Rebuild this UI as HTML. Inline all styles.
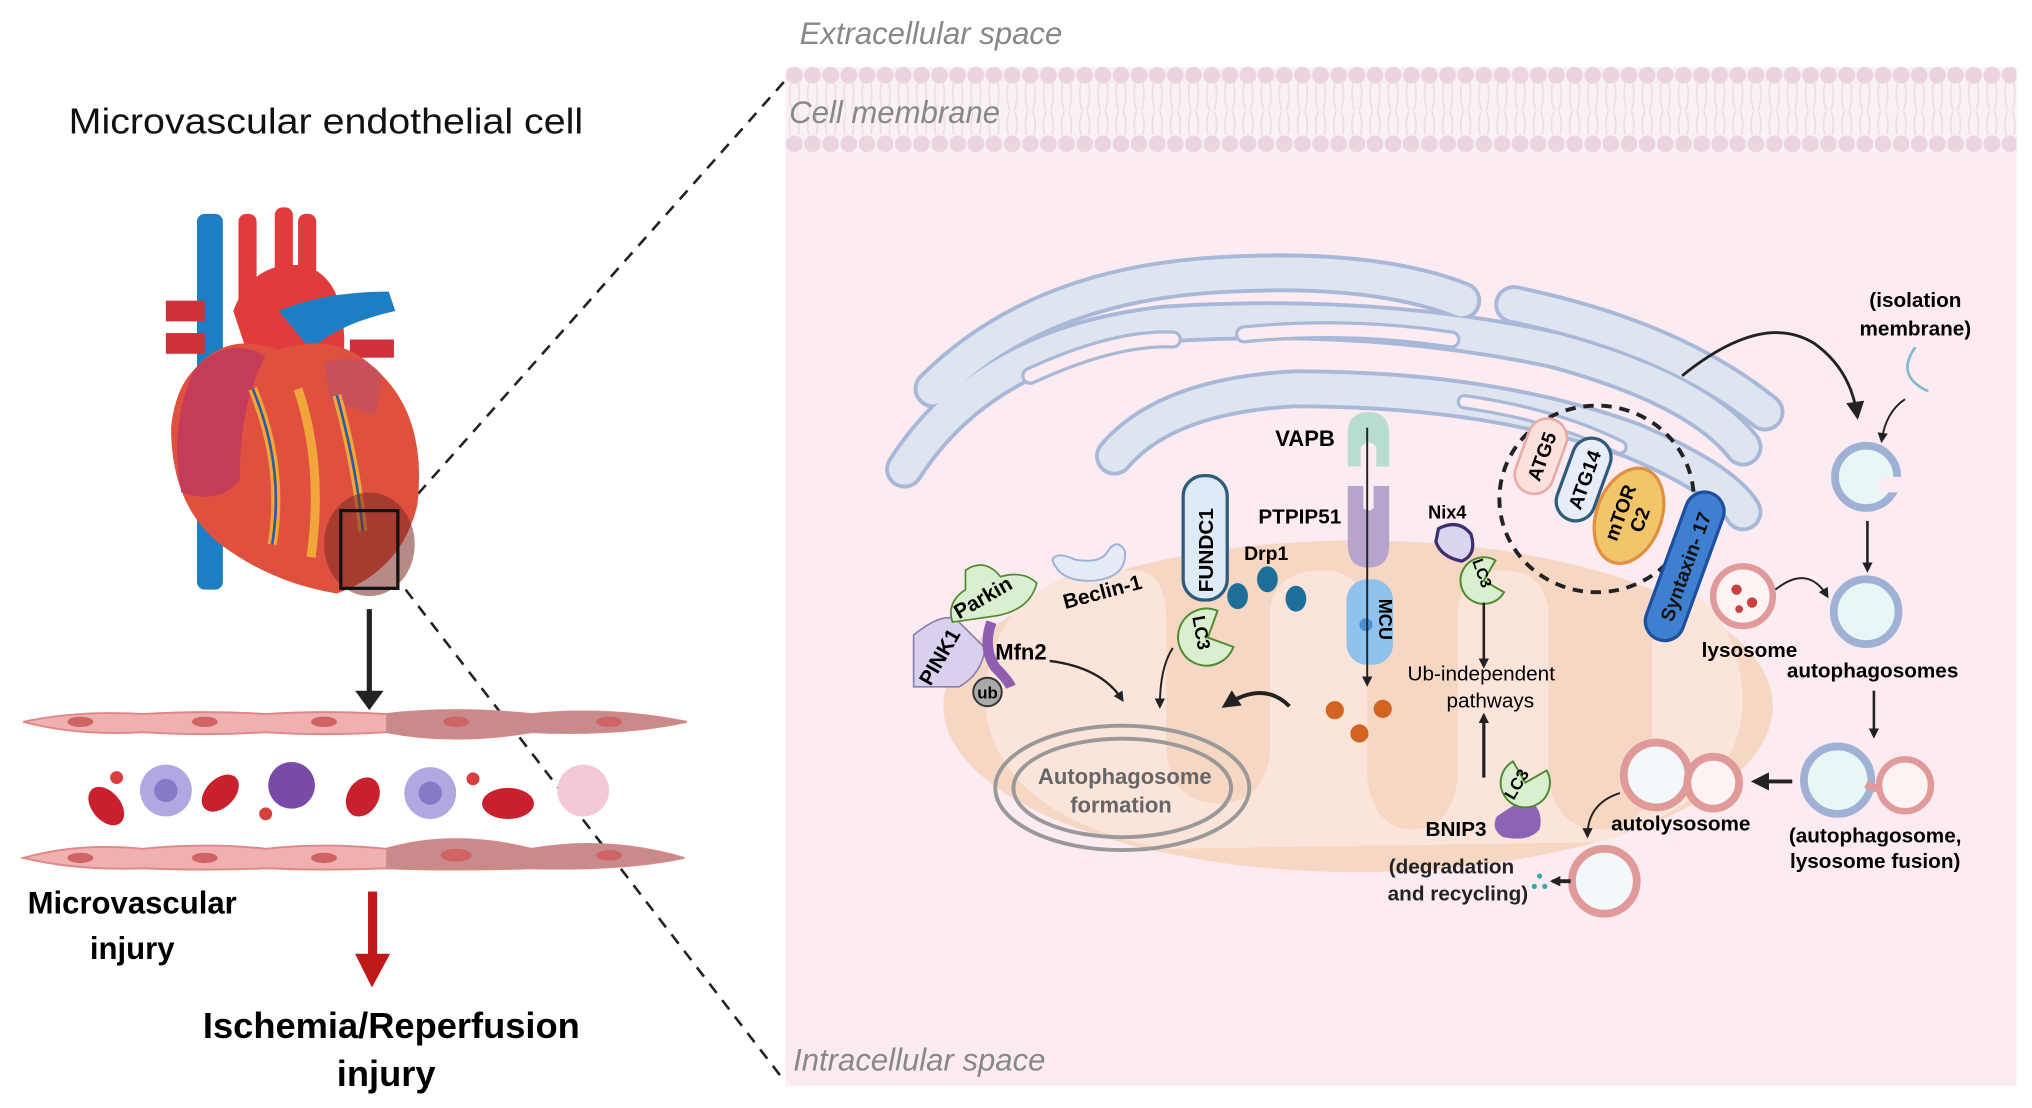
<!DOCTYPE html>
<html><head><meta charset="utf-8"><style>
html,body{margin:0;padding:0;background:#fff;}
svg{display:block;}
text{font-family:"Liberation Sans",sans-serif;}
</style></head><body>
<svg width="2032" height="1108" viewBox="0 0 1568 855" preserveAspectRatio="none" xmlns="http://www.w3.org/2000/svg">
<defs>
<marker id="ah" markerWidth="8" markerHeight="8" refX="6" refY="4" orient="auto" markerUnits="userSpaceOnUse"><path d="M0,0 L8,4 L0,8 Z" fill="#222"/></marker>
<marker id="ahb" markerWidth="14" markerHeight="14" refX="10" refY="7" orient="auto" markerUnits="userSpaceOnUse"><path d="M0,0 L14,7 L0,14 Z" fill="#222"/></marker>
<pattern id="lip" x="606" y="0" width="14" height="130" patternUnits="userSpaceOnUse">
<circle cx="7" cy="58" r="6.5" fill="#ecd3e0"/>
<path d="M4,64 Q2,75 5,85 M10,64 Q12,75 9,85 M4,104 Q2,94 5,86 M10,104 Q12,94 9,86" stroke="#eddbe5" stroke-width="1.2" fill="none"/>
<circle cx="7" cy="111" r="6.5" fill="#ecd3e0"/>
</pattern>
</defs>
<rect width="1568" height="855" fill="#fff"/>
<rect x="606" y="115" width="950" height="723" fill="#fcebf0"/>
<rect x="606" y="52" width="950" height="66" fill="#faf1f5"/>
<rect x="606" y="48" width="950" height="70" fill="url(#lip)"/>
<text x="617" y="34" font-size="24" font-style="italic" fill="#888">Extracellular space</text>
<text x="609" y="95" font-size="24" font-style="italic" fill="#888">Cell membrane</text>
<text x="612" y="826" font-size="24" font-style="italic" fill="#888">Intracellular space</text>
<line x1="312" y1="393" x2="606" y2="62" stroke="#222" stroke-width="2" stroke-dasharray="9,7"/>
<line x1="313" y1="455" x2="606" y2="835" stroke="#222" stroke-width="2" stroke-dasharray="9,7"/>
<ellipse cx="1048" cy="545" rx="320" ry="128" fill="#f6d7c4"/>
<path d="M760,545 Q760,460 840,440 L880,440 Q900,445 900,480 L900,580 Q905,620 940,620 Q975,620 980,580 L980,470 Q985,440 1020,440 Q1050,440 1055,470 L1055,600 Q1060,640 1090,640 Q1120,640 1125,600 L1125,470 Q1130,440 1160,440 Q1190,440 1195,470 L1195,600 Q1200,640 1235,640 Q1270,640 1275,600 L1275,480 Q1280,450 1310,460 Q1345,490 1345,545 Q1340,620 1230,650 L900,655 Q770,630 760,545 Z" fill="#fbe4d9"/>
<g fill="none" stroke-linecap="round">
<g stroke="#a7b8d8" stroke-width="30">
<path d="M720,300 Q800,220 940,212 Q1060,205 1128,232"/>
<path d="M698,362 Q760,265 900,250 Q1060,240 1200,270 Q1310,300 1345,345"/>
<path d="M860,352 Q900,305 1000,300 Q1150,300 1260,340 Q1330,370 1345,395"/>
<path d="M1168,235 Q1290,260 1362,318"/>
</g>
<g stroke="#dfe4f1" stroke-width="24">
<path d="M720,300 Q800,220 940,212 Q1060,205 1128,232"/>
<path d="M698,362 Q760,265 900,250 Q1060,240 1200,270 Q1310,300 1345,345"/>
<path d="M860,352 Q900,305 1000,300 Q1150,300 1260,340 Q1330,370 1345,395"/>
<path d="M1168,235 Q1290,260 1362,318"/>
</g>
<path d="M795,290 Q860,260 905,262" stroke="#a7b8d8" stroke-width="14"/>
<path d="M795,290 Q860,260 905,262" stroke="#fcebf0" stroke-width="9"/>
<path d="M960,258 Q1040,250 1120,262" stroke="#a7b8d8" stroke-width="14"/>
<path d="M960,258 Q1040,250 1120,262" stroke="#fcebf0" stroke-width="9"/>
<path d="M1130,310 Q1200,320 1250,345" stroke="#a7b8d8" stroke-width="12"/>
<path d="M1130,310 Q1200,320 1250,345" stroke="#fcebf0" stroke-width="7"/>
</g>
<ellipse cx="866" cy="608" rx="98" ry="48" fill="none" stroke="#999" stroke-width="3"/>
<ellipse cx="866" cy="608" rx="84" ry="38" fill="none" stroke="#999" stroke-width="3"/>
<text x="868" y="605" font-size="17" font-weight="bold" fill="#666" text-anchor="middle">Autophagosome</text>
<text x="865" y="627" font-size="17" font-weight="bold" fill="#666" text-anchor="middle">formation</text>
<ellipse cx="1232" cy="385" rx="75" ry="72" fill="none" stroke="#222" stroke-width="3" stroke-dasharray="8,6"/>
<g transform="translate(1189,352) rotate(-70)"><rect x="-30" y="-15" width="60" height="30" rx="15" fill="#fbe0dc" stroke="#e8aaa6" stroke-width="2"/><text x="0" y="6" font-size="15" font-weight="bold" text-anchor="middle">ATG5</text></g>
<g transform="translate(1222,370) rotate(-70)"><rect x="-33" y="-15" width="66" height="30" rx="15" fill="#e7edf7" stroke="#2f5c7a" stroke-width="2.5"/><text x="0" y="6" font-size="15" font-weight="bold" text-anchor="middle">ATG14</text></g>
<g transform="translate(1257,398) rotate(-70)"><ellipse rx="38" ry="25" fill="#f2c56b" stroke="#e09040" stroke-width="2.5"/><text x="0" y="-2" font-size="15" font-weight="bold" text-anchor="middle">mTOR</text><text x="0" y="14" font-size="15" font-weight="bold" text-anchor="middle">C2</text></g>
<g transform="translate(1300,437) rotate(-70)"><rect x="-60" y="-15" width="120" height="30" rx="15" fill="#3f7fd0" stroke="#1d4f9e" stroke-width="2.5"/><text x="0" y="6" font-size="15" font-weight="bold" text-anchor="middle" fill="#111">Syntaxin- 17</text></g>
<path d="M1040,335 Q1040,318 1056,318 Q1072,318 1072,335 L1072,360 L1062,360 L1062,345 Q1056,338 1050,345 L1050,360 L1040,360 Z" fill="#b8dcd0"/>
<text x="1030" y="344" font-size="17" font-weight="bold" text-anchor="end">VAPB</text>
<path d="M1040,375 L1052,375 L1052,392 Q1056,396 1060,392 L1060,375 L1072,375 L1072,420 Q1072,438 1056,438 Q1040,438 1040,420 Z" fill="#b7a4cc"/>
<text x="1035" y="404" font-size="16" font-weight="bold" text-anchor="end">PTPIP51</text>
<rect x="1039" y="447" width="36" height="66" rx="16" fill="#8fc3ee"/>
<circle cx="1054" cy="482" r="5" fill="#4b8fd0"/>
<text transform="translate(1064,462) rotate(90)" font-size="14" font-weight="bold">MCU</text>
<line x1="1055" y1="330" x2="1055" y2="528" stroke="#222" stroke-width="1.5" marker-end="url(#ah)"/>
<circle cx="1030" cy="548" r="7" fill="#d26320"/><circle cx="1067" cy="547" r="7" fill="#d26320"/><circle cx="1049" cy="566" r="7" fill="#d26320"/>
<rect x="913" y="367" width="34" height="96" rx="16" fill="#dfeaf7" stroke="#2f5c7a" stroke-width="2.5"/>
<text transform="translate(936,457) rotate(-90)" font-size="16" font-weight="bold">FUNDC1</text>
<path d="M932,470 A22,22 0 1 0 953,492 L932,492 Z" fill="#d9efcf" stroke="#4f8a2f" stroke-width="1.5" transform="rotate(20 932 492)"/>
<text transform="translate(920,476) rotate(80)" font-size="14" font-weight="bold">LC3</text>
<text x="960" y="432" font-size="15" font-weight="bold">Drp1</text>
<ellipse cx="955" cy="460" rx="8" ry="10" fill="#1d6f9a"/><ellipse cx="978" cy="447" rx="8" ry="10" fill="#1d6f9a"/><ellipse cx="1000" cy="462" rx="8" ry="10" fill="#1d6f9a"/>
<path d="M812,432 Q818,450 845,448 Q870,445 868,425 Q862,415 855,425 Q850,435 830,432 Q815,425 812,432 Z" fill="#e3ebf7" stroke="#9fb2d6" stroke-width="1.5"/>
<text transform="translate(822,470) rotate(-15)" font-size="16" font-weight="bold">Beclin-1</text>
<path d="M705,490 Q730,470 740,480 L760,500 Q758,520 740,530 L705,530 Z" fill="#d8d0ec" stroke="#8a80b0" stroke-width="1.3"/>
<text transform="translate(718,530) rotate(-60)" font-size="16" font-weight="bold">PINK1</text>
<path d="M745,440 Q760,430 772,445 Q790,440 800,450 Q795,470 770,475 Q750,478 735,480 Q730,465 745,455 Z" fill="#d9efcf" stroke="#4f8a2f" stroke-width="1.3"/>
<text transform="translate(740,478) rotate(-30)" font-size="16" font-weight="bold">Parkin</text>
<path d="M765,480 Q758,500 768,515 Q778,525 780,530" stroke="#8e5fb0" stroke-width="8" fill="none"/>
<circle cx="762" cy="534" r="11" fill="#aaa" stroke="#333" stroke-width="1.5"/>
<text x="762" y="539" font-size="13" font-weight="bold" text-anchor="middle">ub</text>
<text x="768" y="509" font-size="17" font-weight="bold">Mfn2</text>
<path d="M810,510 Q850,515 866,540" stroke="#222" stroke-width="1.8" fill="none" marker-end="url(#ah)"/>
<path d="M905,500 Q895,515 895,545" stroke="#222" stroke-width="1.5" fill="none" marker-end="url(#ah)"/>
<path d="M995,545 Q975,525 946,544" stroke="#222" stroke-width="3" fill="none" marker-end="url(#ahb)"/>
<text x="1102" y="400" font-size="14" font-weight="bold">Nix4</text>
<path d="M1110,408 Q1125,400 1135,412 Q1140,428 1128,433 Q1112,430 1108,418 Z" fill="#dcd5ef" stroke="#3c2f70" stroke-width="2.5"/>
<path d="M1145,430 A18,18 0 1 0 1163,448 L1145,448 Z" fill="#d9efcf" stroke="#4f8a2f" stroke-width="1.5" transform="rotate(30 1145 448)"/>
<text transform="translate(1136,433) rotate(70)" font-size="12" font-weight="bold">LC3</text>
<line x1="1145" y1="465" x2="1145" y2="514" stroke="#222" stroke-width="2" marker-end="url(#ah)"/>
<text x="1143" y="525" font-size="16" text-anchor="middle">Ub-independent</text>
<text x="1150" y="546" font-size="16" text-anchor="middle">pathways</text>
<line x1="1145" y1="600" x2="1145" y2="552" stroke="#222" stroke-width="2.5" marker-end="url(#ah)"/>
<path d="M1178,615 Q1192,625 1188,640 Q1180,650 1160,646 Q1150,640 1155,630 Z" fill="#8c64b6"/>
<path d="M1177,585 A19,19 0 1 0 1196,604 L1177,604 Z" fill="#d9efcf" stroke="#4f8a2f" stroke-width="1.5" transform="rotate(-30 1177 604)"/>
<text transform="translate(1168,618) rotate(-60)" font-size="13" font-weight="bold">LC3</text>
<text x="1100" y="645" font-size="16" font-weight="bold">BNIP3</text>
<text x="1120" y="674" font-size="16" font-weight="bold" fill="#222" text-anchor="middle">(degradation</text>
<text x="1125" y="695" font-size="16" font-weight="bold" fill="#222" text-anchor="middle">and recycling)</text>
<text x="1478" y="237" font-size="16" font-weight="bold" text-anchor="middle">(isolation</text>
<text x="1478" y="259" font-size="16" font-weight="bold" text-anchor="middle">membrane)</text>
<path d="M1478,268 Q1462,290 1488,302" stroke="#7fb8d0" stroke-width="2" fill="none"/>
<path d="M1298,290 Q1360,240 1400,265 Q1428,285 1433,320" stroke="#222" stroke-width="2.2" fill="none" marker-end="url(#ahb)"/>
<path d="M1470,308 Q1455,318 1452,340" stroke="#222" stroke-width="1.5" fill="none" marker-end="url(#ah)"/>
<circle cx="1440" cy="368" r="24" fill="#e8f6f6" stroke="#9fb2d6" stroke-width="6"/>
<rect x="1450" y="368" width="20" height="12" fill="#fcebf0"/>
<line x1="1441" y1="402" x2="1441" y2="440" stroke="#222" stroke-width="2" marker-end="url(#ah)"/>
<circle cx="1440" cy="472" r="25" fill="#e8f6f6" stroke="#9fb2d6" stroke-width="6"/>
<circle cx="1345" cy="460" r="23" fill="#fdf3f3" stroke="#e09a9a" stroke-width="5"/>
<circle cx="1340" cy="455" r="4" fill="#c94040"/><circle cx="1352" cy="465" r="4" fill="#c94040"/><circle cx="1342" cy="470" r="3" fill="#c94040"/>
<path d="M1370,455 Q1395,435 1410,460" stroke="#222" stroke-width="1.5" fill="none" marker-end="url(#ah)"/>
<text x="1350" y="507" font-size="16" font-weight="bold" text-anchor="middle">lysosome</text>
<text x="1445" y="523" font-size="16" font-weight="bold" text-anchor="middle">autophagosomes</text>
<line x1="1446" y1="533" x2="1446" y2="568" stroke="#222" stroke-width="2" marker-end="url(#ah)"/>
<circle cx="1418" cy="602" r="26" fill="#e8f6f6" stroke="#9fb2d6" stroke-width="6"/>
<path d="M1440,605 Q1452,612 1458,605" stroke="#e09a9a" stroke-width="6" fill="none"/>
<circle cx="1470" cy="606" r="20" fill="#fdf3f3" stroke="#e09a9a" stroke-width="5"/>
<text x="1447" y="650" font-size="16" font-weight="bold" text-anchor="middle">(autophagosome,</text>
<text x="1447" y="670" font-size="16" font-weight="bold" text-anchor="middle">lysosome fusion)</text>
<line x1="1383" y1="603" x2="1355" y2="603" stroke="#222" stroke-width="3" marker-end="url(#ahb)"/>
<circle cx="1278" cy="598" r="25" fill="#f3f8fa" stroke="#e09a9a" stroke-width="6"/>
<circle cx="1322" cy="604" r="20" fill="#fdf3f3" stroke="#e09a9a" stroke-width="6"/>
<text x="1297" y="641" font-size="16" font-weight="bold" text-anchor="middle">autolysosome</text>
<path d="M1250,612 Q1225,620 1225,645" stroke="#222" stroke-width="1.5" fill="none" marker-end="url(#ah)"/>
<circle cx="1238" cy="680" r="25" fill="#f3f8fa" stroke="#e09a9a" stroke-width="6"/>
<line x1="1212" y1="680" x2="1198" y2="680" stroke="#222" stroke-width="3" marker-end="url(#ah)"/>
<circle cx="1188" cy="676" r="2" fill="#3aa"/><circle cx="1192" cy="684" r="2" fill="#3aa"/><circle cx="1184" cy="684" r="2" fill="#3aa"/>
<text x="53" y="103" font-size="28" fill="#111" textLength="397" lengthAdjust="spacingAndGlyphs">Microvascular endothelial cell</text>
<rect x="152" y="165" width="20" height="290" rx="6" fill="#1c7fc3"/>
<rect x="184" y="165" width="14" height="80" rx="6" fill="#e23b3b"/>
<rect x="212" y="160" width="14" height="80" rx="6" fill="#e23b3b"/>
<rect x="230" y="165" width="14" height="80" rx="6" fill="#e23b3b"/>
<path d="M180,240 Q195,200 235,205 Q270,215 265,280 L200,300 Z" fill="#e23b3b"/>
<rect x="128" y="232" width="30" height="16" fill="#d0303a"/>
<rect x="128" y="257" width="30" height="16" fill="#d0303a"/>
<path d="M215,240 Q250,225 300,225 L305,240 Q260,250 240,270 Z" fill="#1c7fc3"/>
<rect x="270" y="262" width="34" height="14" fill="#d0303a"/>
<path d="M150,285 Q175,255 215,270 Q260,255 290,285 Q330,320 322,390 Q310,440 260,458 Q210,450 170,420 Q132,390 132,330 Q135,300 150,285 Z" fill="#e0503f"/>
<path d="M150,285 Q175,258 205,275 Q185,310 185,370 Q170,390 140,380 Q130,330 150,285 Z" fill="#c43c5a"/>
<path d="M250,280 Q280,270 295,290 L290,320 L255,310 Z" fill="#c8505a"/>
<path d="M195,300 Q220,360 210,420 M230,300 Q250,360 240,430 M260,305 Q275,360 280,410" stroke="#f0a63a" stroke-width="7" fill="none"/>
<path d="M195,300 Q220,360 210,420 M260,305 Q275,360 280,410" stroke="#2a5aa0" stroke-width="2" fill="none"/>
<ellipse cx="285" cy="420" rx="35" ry="40" fill="#7a2a22" opacity="0.55"/>
<rect x="263" y="394" width="44" height="60" fill="none" stroke="#111" stroke-width="2.5"/>
<line x1="285" y1="470" x2="285" y2="535" stroke="#222" stroke-width="4"/>
<path d="M274,533 L296,533 L285,548 Z" fill="#222"/>
<path d="M18,557 Q60,548 110,551 Q160,548 205,551 Q250,548 298,551 Q350,545 410,551 Q470,545 530,557 Q480,568 410,565 Q350,575 298,565 Q250,568 205,565 Q160,568 110,565 Q60,568 18,557 Z" fill="#f0b0b0" stroke="#d88" stroke-width="1.5"/>
<path d="M298,551 Q350,545 410,551 Q470,545 530,557 Q480,568 410,565 Q350,575 298,565 Z" fill="#c88a8a"/>
<path d="M18,662 Q60,650 110,655 Q160,650 205,655 Q250,650 298,655 Q350,640 410,655 Q470,645 528,662 Q480,672 410,670 Q350,672 298,670 Q250,672 205,670 Q160,672 110,670 Q60,672 18,662 Z" fill="#f0b0b0" stroke="#d88" stroke-width="1.5"/>
<path d="M298,655 Q350,640 410,655 Q470,645 528,662 Q480,672 410,670 Q350,672 298,670 Z" fill="#c88a8a"/>
<g fill="#d06464">
<ellipse cx="62" cy="557" rx="10" ry="4"/><ellipse cx="158" cy="557" rx="10" ry="4"/><ellipse cx="250" cy="557" rx="10" ry="4"/><ellipse cx="352" cy="557" rx="10" ry="4"/><ellipse cx="470" cy="557" rx="10" ry="4"/>
<ellipse cx="62" cy="662" rx="10" ry="4"/><ellipse cx="158" cy="662" rx="10" ry="4"/><ellipse cx="250" cy="662" rx="10" ry="4"/><ellipse cx="352" cy="660" rx="12" ry="5"/><ellipse cx="470" cy="660" rx="10" ry="4"/>
</g>
<g fill="#c8202c">
<ellipse cx="82" cy="622" rx="11" ry="17" transform="rotate(-40 82 622)"/>
<ellipse cx="170" cy="612" rx="11" ry="17" transform="rotate(45 170 612)"/>
<ellipse cx="280" cy="615" rx="12" ry="16" transform="rotate(30 280 615)"/>
<ellipse cx="392" cy="620" rx="20" ry="12"/>
</g>
<circle cx="90" cy="600" r="5" fill="#d84040"/><circle cx="205" cy="628" r="5" fill="#d84040"/><circle cx="365" cy="601" r="5" fill="#d84040"/>
<circle cx="128" cy="610" r="20" fill="#b0a8e0"/><circle cx="128" cy="610" r="9" fill="#8878c8"/>
<circle cx="225" cy="606" r="18" fill="#7a4aa8"/>
<circle cx="332" cy="612" r="20" fill="#b0a8e0"/><circle cx="332" cy="612" r="9" fill="#8878c8"/>
<circle cx="450" cy="610" r="20" fill="#f4c8d8"/>
<text x="102" y="705" font-size="24" font-weight="bold" text-anchor="middle">Microvascular</text>
<text x="102" y="740" font-size="24" font-weight="bold" text-anchor="middle">injury</text>
<rect x="284" y="688" width="7" height="50" fill="#c01818"/>
<path d="M274,736 L301,736 L287,762 Z" fill="#c01818"/>
<text x="302" y="801" font-size="28" font-weight="bold" text-anchor="middle">Ischemia/Reperfusion</text>
<text x="298" y="838" font-size="28" font-weight="bold" text-anchor="middle">injury</text>
</svg>
</body></html>
